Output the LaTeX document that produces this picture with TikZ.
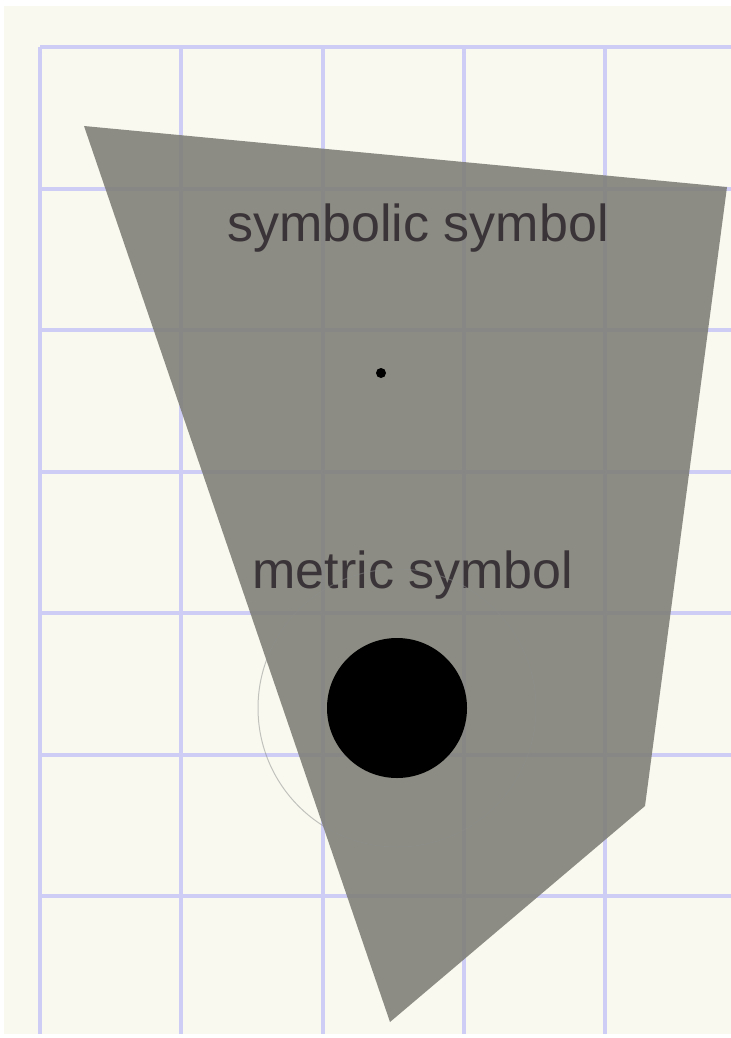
\documentclass[tikz,border=0pt]{standalone}
\usepackage{fontspec}
\setmainfont{Liberation Sans}
\usepackage{tikz}
\usetikzlibrary{positioning}
\definecolor{paper}{RGB}{249,249,240}
\definecolor{gridblue}{RGB}{205,205,245}
\definecolor{areagray}{RGB}{126,126,118}
\definecolor{labeltext}{RGB}{58,52,56}

\begin{document}
\begin{tikzpicture}[x=0.5pt, y=-0.5pt,
		lbl/.style={text=labeltext, font=\fontsize{26}{30}\selectfont, inner sep=0pt},
		gridline/.style={gridblue, line width=2pt}]
		\useasboundingbox (0,0) rectangle (731,1038);
		\fill[paper] (4,6) rectangle (731,1034);
		% grid
		\foreach \gx in {40,181.25,322.5,463.75,605}
			\draw[gridline] (\gx,47) -- (\gx,1034);
		\foreach \gy in {47,188.5,330,471.5,613,754.5,896}
			\draw[gridline] (40,\gy) -- (731,\gy);
		% area
		\fill[areagray, opacity=0.88] (84,126) -- (727,187) -- (645,806) -- (390,1022) -- cycle;
		\node[lbl] (symbolic) at (418,228) {symbolic symbol};
		\node[circle, fill=black, inner sep=0pt, minimum size=5pt] (point) at (381,373) {};
		\node[lbl] (metric) at (413,575) {metric symbol};
		\node[circle, draw=black!45, opacity=0.5, line width=0.5pt, minimum size=139pt] (range) at (397,708) {};
		\node[circle, fill=black, inner sep=0pt, minimum size=70pt] (disc) at (range.center) {};
	\end{tikzpicture}
\end{document}
